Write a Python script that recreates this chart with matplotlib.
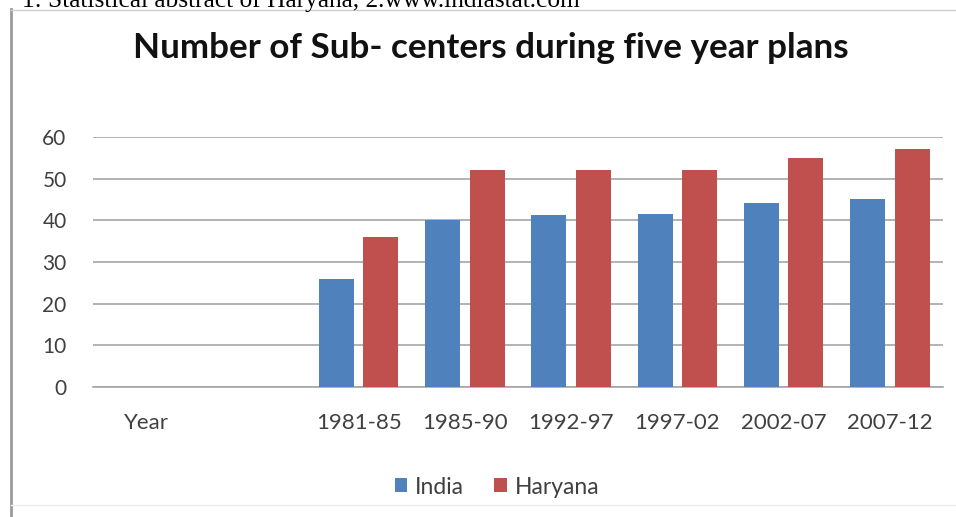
import numpy as np
import matplotlib.pyplot as plt
from matplotlib.lines import Line2D

categories = ["Year", "", "1981-85", "1985-90", "1992-97", "1997-02", "2002-07", "2007-12"]
india = [np.nan, np.nan, 26, 40, 41.3, 41.5, 44.1, 45.2]
haryana = [np.nan, np.nan, 36, 52, 52, 52, 55, 57]

blue = '#4F81BD'
red = '#C0504D'
plt.rcParams['font.family'] = ['Lato', 'DejaVu Sans']

fig = plt.figure(figsize=(9.56, 5.17), dpi=100)
ax = fig.add_axes([93 / 956, 1 - 387 / 517, 850 / 956, 250 / 517])

x = np.arange(len(categories))
ax.bar(x - 0.21, india, width=0.33, color=blue, label='India', zorder=3)
ax.bar(x + 0.21, haryana, width=0.33, color=red, label='Haryana', zorder=3)

ax.set_xlim(-0.5, len(categories) - 0.5)
ax.set_ylim(0, 60)
ax.set_yticks(range(0, 61, 10))
ax.set_xticks(x)
ax.set_xticklabels(categories)
ax.tick_params(axis='y', length=0, pad=19, labelsize=15, labelcolor='#404040')
ax.tick_params(axis='x', length=0, pad=19, labelsize=16, labelcolor='#404040')
ax.grid(axis='y', color='#a6a6a6', linewidth=1.2, zorder=0)
for s in ['top', 'right', 'left']:
    ax.spines[s].set_visible(False)
ax.spines['bottom'].set_color('#a6a6a6')
ax.spines['bottom'].set_linewidth(1.2)

fig.text(491 / 956, 1 - 48 / 517, "Number of Sub- centers during five year plans",
         ha='center', va='center', fontsize=25.2, fontweight='bold', color='#111111')

fig.legend(loc='center', bbox_to_anchor=(497 / 956, 1 - 487 / 517), ncol=2, frameon=False,
           fontsize=16.5, handlelength=0.55, handleheight=0.55, handletextpad=0.35,
           columnspacing=1.3, labelcolor='#404040')

# caption fragment cut off at the top of the page
fig.text(22 / 956, 1 - 7.5 / 517, "1: Statistical abstract of Haryana, 2.www.indiastat.com",
         ha='left', va='baseline', fontsize=18.3, family='Liberation Serif', color='black')

# border of the pasted chart
fig.add_artist(Line2D([11 / 956, 11 / 956], [0, 1 - 9 / 517], transform=fig.transFigure,
                      color='#9a9a9a', linewidth=2))
fig.add_artist(Line2D([11 / 956, 1], [1 - 9.5 / 517, 1 - 9.5 / 517], transform=fig.transFigure,
                      color='#d0d0d0', linewidth=1))
fig.add_artist(Line2D([11 / 956, 1], [1 - 505 / 517, 1 - 505 / 517], transform=fig.transFigure,
                      color='#ececec', linewidth=1))

fig.savefig('out.png', dpi=100)
